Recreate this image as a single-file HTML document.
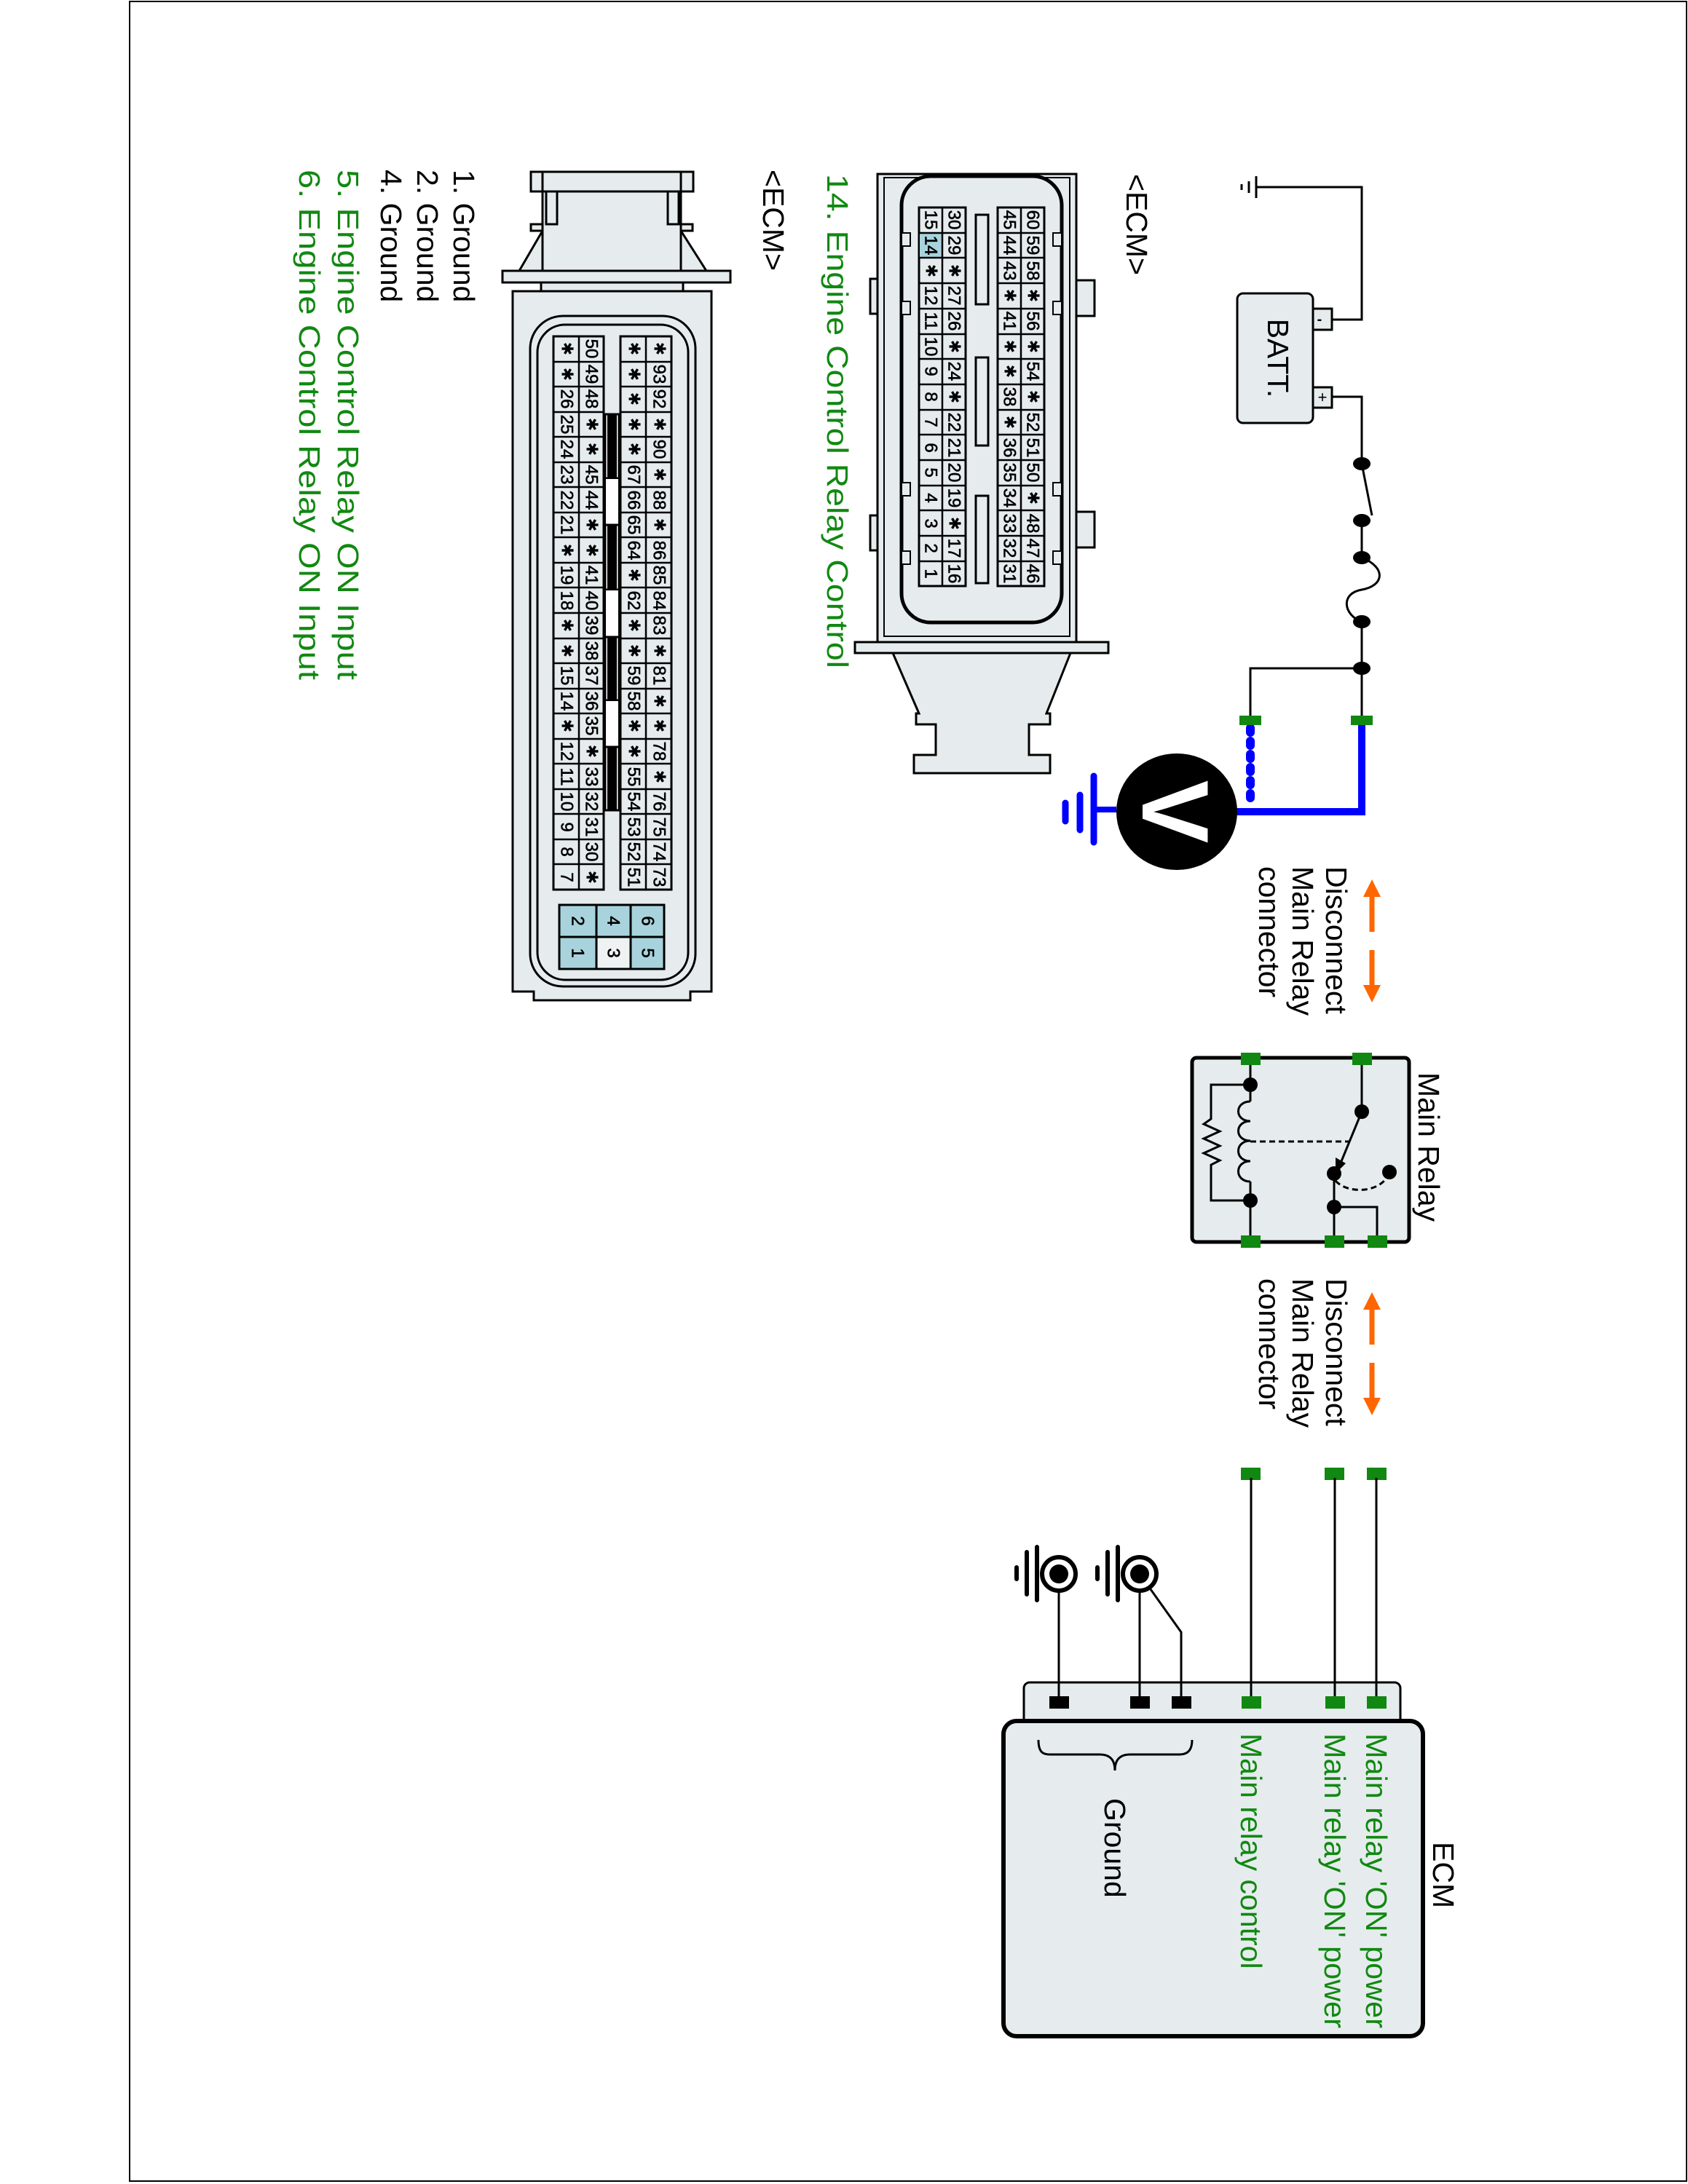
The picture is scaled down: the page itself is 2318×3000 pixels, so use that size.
<!DOCTYPE html>
<html><head><meta charset="utf-8"><style>
html,body{margin:0;padding:0;background:#fff}
svg{display:block}
text{font-family:"Liberation Sans",Arial,sans-serif}
.p{font-size:24px;text-anchor:middle;dominant-baseline:central;fill:#000;stroke:#000;stroke-width:0.6}
.s{font-family:"DejaVu Sans",sans-serif;font-size:22px;text-anchor:middle;dominant-baseline:central;fill:#000}
.l{font-size:41px;dominant-baseline:central;fill:#000}
.g{fill:#118811}
</style></head><body>
<svg width="2318" height="3000" viewBox="0 0 2318 3000" xmlns="http://www.w3.org/2000/svg">
<rect x="178" y="2" width="2138" height="2994" fill="none" stroke="#000" stroke-width="2"/>

<!-- ================= Connector 1 (60 pin) ================= -->
<g stroke="#000" stroke-width="3" fill="#e6ecee">
  <path d="M1226,897 L1470,897 L1437,980 L1442,980 L1442,995 L1413,995 L1413,1037 L1442,1037 L1442,1062 L1255,1062 L1255,1037 L1285,1037 L1285,995 L1258,995 L1258,980 L1262,980 Z"/>
  <rect x="1174" y="882" width="348" height="15"/>
  <rect x="1195" y="383" width="12" height="48"/>
  <rect x="1195" y="708" width="12" height="48"/>
  <rect x="1478" y="385" width="25" height="49"/>
  <rect x="1478" y="703" width="25" height="49"/>
  <rect x="1205" y="239" width="273" height="643"/>
  <rect x="1214" y="244" width="255" height="630" fill="none" stroke-width="2"/>
  <rect x="1238" y="242" width="220" height="613" rx="40" stroke-width="5"/>
  <rect x="1238" y="320" width="12" height="18" stroke-width="2"/>
  <rect x="1238" y="414" width="12" height="18" stroke-width="2"/>
  <rect x="1238" y="663" width="12" height="18" stroke-width="2"/>
  <rect x="1238" y="757" width="12" height="18" stroke-width="2"/>
  <rect x="1446" y="320" width="12" height="18" stroke-width="2"/>
  <rect x="1446" y="414" width="12" height="18" stroke-width="2"/>
  <rect x="1446" y="663" width="12" height="18" stroke-width="2"/>
  <rect x="1446" y="757" width="12" height="18" stroke-width="2"/>
  <rect x="1340" y="295" width="17" height="123" fill="#e6ecee"/>
  <rect x="1340" y="491" width="17" height="121"/>
  <rect x="1340" y="681" width="17" height="120"/>
  <rect x="1262" y="285" width="64" height="520"/>
  <rect x="1370" y="285" width="64" height="520"/>
</g>
<rect x="1263" y="321" width="30" height="33" fill="#a8d3dc"/>
<path d="M1294,285V805M1402,285V805M1262,320H1326M1262,354H1326M1262,389H1326M1262,424H1326M1262,459H1326M1262,493H1326M1262,528H1326M1262,563H1326M1262,597H1326M1262,632H1326M1262,667H1326M1262,701H1326M1262,736H1326M1262,771H1326M1370,320H1434M1370,354H1434M1370,389H1434M1370,424H1434M1370,459H1434M1370,493H1434M1370,528H1434M1370,563H1434M1370,597H1434M1370,632H1434M1370,667H1434M1370,701H1434M1370,736H1434M1370,771H1434" stroke="#000" stroke-width="2.5" fill="none"/>

<!-- ================= Connector 2 (94 pin) ================= -->
<g stroke="#000" stroke-width="3" fill="#e6ecee">
  <path d="M704,400 L977,400 L977,1362 L948,1362 L948,1374 L733,1374 L733,1362 L704,1362 Z"/>
  <rect x="743" y="388" width="195" height="12"/>
  <path d="M745,317 L713,372 L970,372 L935,317 Z"/>
  <rect x="690" y="372" width="313" height="16"/>
  <rect x="745" y="236" width="190" height="136"/>
  <rect x="729" y="236" width="223" height="27"/>
  <rect x="750" y="263" width="15" height="45"/>
  <rect x="917" y="263" width="15" height="45"/>
  <rect x="729" y="308" width="16" height="9"/>
  <rect x="935" y="308" width="16" height="9"/>
  <line x1="745" y1="236" x2="745" y2="263"/>
  <line x1="935" y1="236" x2="935" y2="263"/>
  <rect x="728" y="434" width="227" height="921" rx="45" fill="none"/>
  <rect x="738" y="446" width="207" height="900" rx="38" fill="none"/>
  <rect x="760" y="462" width="69" height="760"/>
  <rect x="852" y="462" width="70" height="760"/>
  <rect x="831" y="569" width="19" height="88" fill="#fff"/>
  <rect x="831" y="657" width="19" height="64" fill="#fff" stroke-width="2"/>
  <rect x="831" y="721" width="19" height="89" fill="#fff"/>
  <rect x="831" y="810" width="19" height="65" fill="#fff" stroke-width="2"/>
  <rect x="831" y="875" width="19" height="87" fill="#fff"/>
  <rect x="831" y="962" width="19" height="64" fill="#fff" stroke-width="2"/>
  <rect x="831" y="1026" width="19" height="87" fill="#fff"/>
</g>
<rect x="834" y="569" width="13" height="88" fill="#000"/>
<rect x="834" y="721" width="13" height="89" fill="#000"/>
<rect x="834" y="875" width="13" height="87" fill="#000"/>
<rect x="834" y="1026" width="13" height="87" fill="#000"/>
<path d="M795,462V1222M887,462V1222M760,497H829M760,531H829M760,566H829M760,600H829M760,635H829M760,669H829M760,704H829M760,738H829M760,773H829M760,807H829M760,842H829M760,877H829M760,911H829M760,946H829M760,980H829M760,1015H829M760,1049H829M760,1084H829M760,1118H829M760,1153H829M760,1187H829M852,497H922M852,531H922M852,566H922M852,600H922M852,635H922M852,669H922M852,704H922M852,738H922M852,773H922M852,807H922M852,842H922M852,877H922M852,911H922M852,946H922M852,980H922M852,1015H922M852,1049H922M852,1084H922M852,1118H922M852,1153H922M852,1187H922" stroke="#000" stroke-width="2.5" fill="none"/>
<g stroke="#000" stroke-width="3">
  <rect x="768" y="1243" width="51" height="44" fill="#a8d3dc"/>
  <rect x="768" y="1287" width="51" height="44" fill="#a8d3dc"/>
  <rect x="819" y="1243" width="47" height="44" fill="#a8d3dc"/>
  <rect x="819" y="1287" width="47" height="44" fill="#eef2f3"/>
  <rect x="866" y="1243" width="46" height="44" fill="#a8d3dc"/>
  <rect x="866" y="1287" width="46" height="44" fill="#a8d3dc"/>
</g>

<!-- ================= Battery circuit ================= -->
<g stroke="#000" stroke-width="3" fill="none">
  <path d="M1725,257 H1870 V439 H1829"/>
  <path d="M1829,545 H1870 V637"/>
  <line x1="1870" y1="637" x2="1884" y2="708"/>
  <path d="M1870,715 V766 C1905,780 1900,805 1870,810 C1840,815 1845,845 1870,854 V989"/>
  <path d="M1870,918 H1717 V989"/>
  <path d="M1725,242 V272 M1715,249 V265 M1705,253 V261"/>
  <rect x="1803" y="424" width="26" height="29" fill="#e6ecee"/>
  <rect x="1803" y="532" width="26" height="28" fill="#e6ecee"/>
  <rect x="1699" y="403" width="104" height="178" rx="8" fill="#e6ecee"/>
</g>
<text x="1812" y="445" font-size="20" font-weight="bold" text-anchor="middle">-</text>
<text x="1816" y="553" font-size="22" text-anchor="middle">+</text>
<g fill="#000">
  <ellipse cx="1870" cy="637" rx="12" ry="9"/>
  <ellipse cx="1870" cy="715" rx="12" ry="9"/>
  <ellipse cx="1870" cy="766" rx="12" ry="9"/>
  <ellipse cx="1870" cy="854" rx="12" ry="9"/>
  <ellipse cx="1870" cy="918" rx="12" ry="9"/>
</g>
<!-- blue -->
<path d="M1870,995 V1115 H1698" stroke="#0000ff" stroke-width="10" fill="none"/>
<line x1="1717" y1="1000" x2="1717" y2="1108" stroke="#0000ff" stroke-width="12" stroke-dasharray="6 12" stroke-linecap="round"/>
<line x1="1533" y1="1112" x2="1502" y2="1112" stroke="#0000ff" stroke-width="8"/>
<path d="M1502,1066 V1157 M1483,1092 V1140 M1463,1103 V1128" stroke="#0000ff" stroke-width="9" stroke-linecap="round"/>
<ellipse cx="1616" cy="1115" rx="83" ry="80" fill="#000"/>
<rect x="1855" y="983" width="30" height="13" fill="#118811"/>
<rect x="1702" y="983" width="30" height="13" fill="#118811"/>

<!-- orange arrows -->
<g stroke="#ff6600" stroke-width="7" fill="#ff6600">
  <line x1="1884" y1="1225" x2="1884" y2="1280"/>
  <path d="M1884,1208 L1872,1232 L1896,1232 Z" stroke="none"/>
  <line x1="1884" y1="1305" x2="1884" y2="1360"/>
  <path d="M1884,1377 L1872,1353 L1896,1353 Z" stroke="none"/>
  <line x1="1884" y1="1792" x2="1884" y2="1847"/>
  <path d="M1884,1775 L1872,1799 L1896,1799 Z" stroke="none"/>
  <line x1="1884" y1="1872" x2="1884" y2="1927"/>
  <path d="M1884,1944 L1872,1920 L1896,1920 Z" stroke="none"/>
</g>

<!-- ================= Main relay ================= -->
<rect x="1637" y="1453" width="298" height="253" rx="6" fill="#e6ecee" stroke="#000" stroke-width="5"/>
<g stroke="#000" stroke-width="3" fill="none">
  <path d="M1717,1454 V1513"/>
  <path d="M1717,1513 c-22,0 -22,27 0,27 c-22,0 -22,27 0,27 c-22,0 -22,28 0,28 c-22,0 -22,28 0,28"/>
  <path d="M1717,1623 V1705"/>
  <path d="M1717,1490 H1663 V1537 L1653,1544 L1675,1554 L1653,1564 L1675,1574 L1653,1584 L1675,1594 L1663,1600 V1649 H1717"/>
  <path d="M1717,1568 H1852" stroke-dasharray="8 5"/>
  <path d="M1870,1454 V1527"/>
  <path d="M1870,1527 L1840,1600"/>
  <path d="M1834,1622 C1850,1640 1895,1640 1908,1612" stroke-dasharray="8 5"/>
  <path d="M1832,1612 V1705 M1832,1658 H1891 V1705"/>
</g>
<path d="M1834,1612 L1834,1590 L1848,1598 Z" fill="#000"/>
<g fill="#000">
  <circle cx="1717" cy="1490" r="10"/>
  <circle cx="1717" cy="1649" r="10"/>
  <circle cx="1870" cy="1527" r="10"/>
  <circle cx="1832" cy="1612" r="10"/>
  <circle cx="1908" cy="1610" r="10"/>
  <circle cx="1832" cy="1658" r="10"/>
</g>
<g fill="#118811">
  <rect x="1704" y="1446" width="27" height="17"/>
  <rect x="1857" y="1446" width="27" height="17"/>
  <rect x="1704" y="1697" width="27" height="17"/>
  <rect x="1819" y="1697" width="27" height="17"/>
  <rect x="1878" y="1697" width="27" height="17"/>
  <rect x="1704" y="2016" width="27" height="17"/>
  <rect x="1819" y="2016" width="27" height="17"/>
  <rect x="1877" y="2016" width="27" height="17"/>
</g>

<!-- ================= ECM ================= -->
<rect x="1406" y="2311" width="517" height="60" rx="8" fill="#e6ecee" stroke="#000" stroke-width="3"/>
<rect x="1378" y="2364" width="576" height="433" rx="18" fill="#e6ecee" stroke="#000" stroke-width="6"/>
<g stroke="#000" stroke-width="3" fill="none">
  <path d="M1718,2030 V2338 M1833,2030 V2338 M1890,2030 V2338"/>
  <path d="M1454,2162 V2338 M1565,2162 V2338 M1565,2162 L1622,2242 V2338"/>
  <path d="M1426,2390 C1426,2412 1436,2410 1450,2410 H1510 C1525,2410 1531,2418 1531,2432 C1531,2418 1537,2410 1552,2410 H1620 C1634,2410 1637,2400 1637,2390"/>
  <path d="M1424,2125 V2198 M1410,2132 V2190 M1396,2153 V2169" stroke-width="6" stroke-linecap="round"/>
  <path d="M1535,2125 V2198 M1521,2132 V2190 M1507,2153 V2169" stroke-width="6" stroke-linecap="round"/>
</g>
<g>
  <circle cx="1454" cy="2162" r="23" fill="#fff" stroke="#000" stroke-width="6"/>
  <circle cx="1454" cy="2162" r="13" fill="#000"/>
  <circle cx="1565" cy="2162" r="23" fill="#fff" stroke="#000" stroke-width="6"/>
  <circle cx="1565" cy="2162" r="13" fill="#000"/>
</g>
<g fill="#000">
  <rect x="1441" y="2330" width="27" height="17"/>
  <rect x="1552" y="2330" width="27" height="17"/>
  <rect x="1609" y="2330" width="27" height="17"/>
</g>
<g fill="#118811">
  <rect x="1705" y="2330" width="27" height="17"/>
  <rect x="1820" y="2330" width="27" height="17"/>
  <rect x="1877" y="2330" width="27" height="17"/>
</g>

<!-- ================= ALL ROTATED TEXT (x=screenY, y=-screenX) ================= -->
<g transform="rotate(90)">
  <text class="l" x="492" y="-1755" font-size="48" text-anchor="middle">BATT.</text>
  <text x="1115" y="-1614" font-size="130" font-weight="bold" fill="#fff" text-anchor="middle" dominant-baseline="central">V</text>

  <text class="l" x="1190" y="-1835">Disconnect</text>
  <text class="l" x="1190" y="-1789">Main Relay</text>
  <text class="l" x="1190" y="-1743">connector</text>
  <text class="l" x="1756" y="-1835">Disconnect</text>
  <text class="l" x="1756" y="-1789">Main Relay</text>
  <text class="l" x="1756" y="-1743">connector</text>
  <text class="l" x="1473" y="-1962">Main Relay</text>

  <text class="l" x="2530" y="-1982">ECM</text>
  <text class="l g" x="2381" y="-1890" textLength="405" lengthAdjust="spacingAndGlyphs">Main relay 'ON' power</text>
  <text class="l g" x="2381" y="-1833" textLength="405" lengthAdjust="spacingAndGlyphs">Main relay 'ON' power</text>
  <text class="l g" x="2381" y="-1718">Main relay control</text>
  <text class="l" x="2470" y="-1531">Ground</text>

  <text class="l" x="239" y="-1561">&lt;ECM&gt;</text>
  <text class="l g" x="239" y="-1150" font-size="44" textLength="679" lengthAdjust="spacingAndGlyphs">14. Engine Control Relay Control</text>

  <text class="l" x="233" y="-1062">&lt;ECM&gt;</text>
  <text class="l" x="233" y="-637" font-size="43">1. Ground</text>
  <text class="l" x="233" y="-587" font-size="43">2. Ground</text>
  <text class="l" x="233" y="-537" font-size="43">4. Ground</text>
  <text class="l g" x="233" y="-478" font-size="44" textLength="701" lengthAdjust="spacingAndGlyphs">5. Engine Control Relay ON Input</text>
  <text class="l g" x="233" y="-425" font-size="44" textLength="701" lengthAdjust="spacingAndGlyphs">6. Engine Control Relay ON Input</text>

  <!-- Connector 1 col A x=1418 -->
  <text class="p" x="302" y="-1418">60</text><text class="p" x="337" y="-1418">59</text><text class="p" x="372" y="-1418">58</text><text class="s" x="406" y="-1418">✱</text><text class="p" x="441" y="-1418">56</text><text class="s" x="476" y="-1418">✱</text><text class="p" x="510" y="-1418">54</text><text class="s" x="545" y="-1418">✱</text><text class="p" x="580" y="-1418">52</text><text class="p" x="615" y="-1418">51</text><text class="p" x="649" y="-1418">50</text><text class="s" x="684" y="-1418">✱</text><text class="p" x="719" y="-1418">48</text><text class="p" x="753" y="-1418">47</text><text class="p" x="788" y="-1418">46</text>
  <!-- col B x=1386 -->
  <text class="p" x="302" y="-1386">45</text><text class="p" x="337" y="-1386">44</text><text class="p" x="372" y="-1386">43</text><text class="s" x="406" y="-1386">✱</text><text class="p" x="441" y="-1386">41</text><text class="s" x="476" y="-1386">✱</text><text class="s" x="510" y="-1386">✱</text><text class="p" x="545" y="-1386">38</text><text class="s" x="580" y="-1386">✱</text><text class="p" x="615" y="-1386">36</text><text class="p" x="649" y="-1386">35</text><text class="p" x="684" y="-1386">34</text><text class="p" x="719" y="-1386">33</text><text class="p" x="753" y="-1386">32</text><text class="p" x="788" y="-1386">31</text>
  <!-- col C x=1310 -->
  <text class="p" x="302" y="-1310">30</text><text class="p" x="337" y="-1310">29</text><text class="s" x="372" y="-1310">✱</text><text class="p" x="406" y="-1310">27</text><text class="p" x="441" y="-1310">26</text><text class="s" x="476" y="-1310">✱</text><text class="p" x="510" y="-1310">24</text><text class="s" x="545" y="-1310">✱</text><text class="p" x="580" y="-1310">22</text><text class="p" x="615" y="-1310">21</text><text class="p" x="649" y="-1310">20</text><text class="p" x="684" y="-1310">19</text><text class="s" x="719" y="-1310">✱</text><text class="p" x="753" y="-1310">17</text><text class="p" x="788" y="-1310">16</text>
  <!-- col D x=1278 -->
  <text class="p" x="302" y="-1278">15</text><text class="p" x="337" y="-1278">14</text><text class="s" x="372" y="-1278">✱</text><text class="p" x="406" y="-1278">12</text><text class="p" x="441" y="-1278">11</text><text class="p" x="476" y="-1278">10</text><text class="p" x="510" y="-1278">9</text><text class="p" x="545" y="-1278">8</text><text class="p" x="580" y="-1278">7</text><text class="p" x="615" y="-1278">6</text><text class="p" x="649" y="-1278">5</text><text class="p" x="684" y="-1278">4</text><text class="p" x="719" y="-1278">3</text><text class="p" x="753" y="-1278">2</text><text class="p" x="788" y="-1278">1</text>

  <!-- Connector 2 col A x=905 -->
  <text class="s" x="479" y="-905">✱</text><text class="p" x="514" y="-905">93</text><text class="p" x="548" y="-905">92</text><text class="s" x="583" y="-905">✱</text><text class="p" x="617" y="-905">90</text><text class="s" x="652" y="-905">✱</text><text class="p" x="687" y="-905">88</text><text class="s" x="721" y="-905">✱</text><text class="p" x="756" y="-905">86</text><text class="p" x="790" y="-905">85</text><text class="p" x="825" y="-905">84</text><text class="p" x="859" y="-905">83</text><text class="s" x="894" y="-905">✱</text><text class="p" x="928" y="-905">81</text><text class="s" x="963" y="-905">✱</text><text class="s" x="997" y="-905">✱</text><text class="p" x="1032" y="-905">78</text><text class="s" x="1067" y="-905">✱</text><text class="p" x="1101" y="-905">76</text><text class="p" x="1136" y="-905">75</text><text class="p" x="1170" y="-905">74</text><text class="p" x="1205" y="-905">73</text>
  <!-- col B x=870 -->
  <text class="s" x="479" y="-870">✱</text><text class="s" x="514" y="-870">✱</text><text class="s" x="548" y="-870">✱</text><text class="s" x="583" y="-870">✱</text><text class="s" x="617" y="-870">✱</text><text class="p" x="652" y="-870">67</text><text class="p" x="687" y="-870">66</text><text class="p" x="721" y="-870">65</text><text class="p" x="756" y="-870">64</text><text class="s" x="790" y="-870">✱</text><text class="p" x="825" y="-870">62</text><text class="s" x="859" y="-870">✱</text><text class="s" x="894" y="-870">✱</text><text class="p" x="928" y="-870">59</text><text class="p" x="963" y="-870">58</text><text class="s" x="997" y="-870">✱</text><text class="s" x="1032" y="-870">✱</text><text class="p" x="1067" y="-870">55</text><text class="p" x="1101" y="-870">54</text><text class="p" x="1136" y="-870">53</text><text class="p" x="1170" y="-870">52</text><text class="p" x="1205" y="-870">51</text>
  <!-- col C x=812 -->
  <text class="p" x="479" y="-812">50</text><text class="p" x="514" y="-812">49</text><text class="p" x="548" y="-812">48</text><text class="s" x="583" y="-812">✱</text><text class="s" x="617" y="-812">✱</text><text class="p" x="652" y="-812">45</text><text class="p" x="687" y="-812">44</text><text class="s" x="721" y="-812">✱</text><text class="s" x="756" y="-812">✱</text><text class="p" x="790" y="-812">41</text><text class="p" x="825" y="-812">40</text><text class="p" x="859" y="-812">39</text><text class="p" x="894" y="-812">38</text><text class="p" x="928" y="-812">37</text><text class="p" x="963" y="-812">36</text><text class="p" x="997" y="-812">35</text><text class="s" x="1032" y="-812">✱</text><text class="p" x="1067" y="-812">33</text><text class="p" x="1101" y="-812">32</text><text class="p" x="1136" y="-812">31</text><text class="p" x="1170" y="-812">30</text><text class="s" x="1205" y="-812">✱</text>
  <!-- col D x=778 -->
  <text class="s" x="479" y="-778">✱</text><text class="s" x="514" y="-778">✱</text><text class="p" x="548" y="-778">26</text><text class="p" x="583" y="-778">25</text><text class="p" x="617" y="-778">24</text><text class="p" x="652" y="-778">23</text><text class="p" x="687" y="-778">22</text><text class="p" x="721" y="-778">21</text><text class="s" x="756" y="-778">✱</text><text class="p" x="790" y="-778">19</text><text class="p" x="825" y="-778">18</text><text class="s" x="859" y="-778">✱</text><text class="s" x="894" y="-778">✱</text><text class="p" x="928" y="-778">15</text><text class="p" x="963" y="-778">14</text><text class="s" x="997" y="-778">✱</text><text class="p" x="1032" y="-778">12</text><text class="p" x="1067" y="-778">11</text><text class="p" x="1101" y="-778">10</text><text class="p" x="1136" y="-778">9</text><text class="p" x="1170" y="-778">8</text><text class="p" x="1205" y="-778">7</text>

  <!-- 6-pin block -->
  <text class="p" x="1265" y="-793">2</text><text class="p" x="1309" y="-793">1</text>
  <text class="p" x="1265" y="-842">4</text><text class="p" x="1309" y="-842">3</text>
  <text class="p" x="1265" y="-889">6</text><text class="p" x="1309" y="-889">5</text>
</g>
</svg>
</body></html>
